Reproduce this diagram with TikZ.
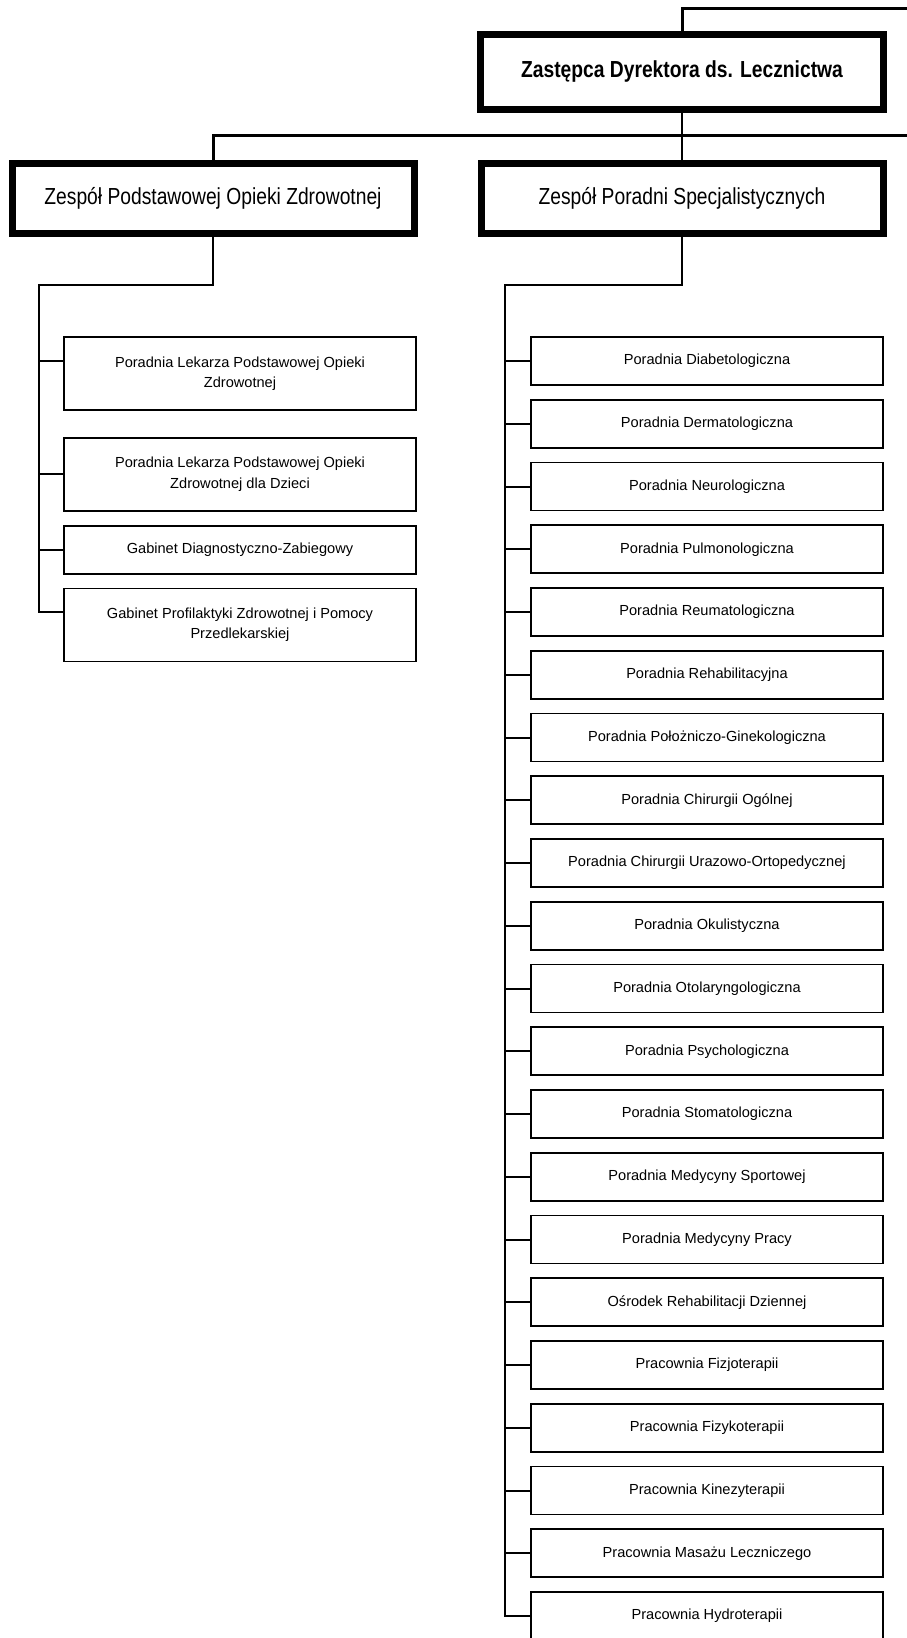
\documentclass[tikz,border=0pt]{standalone}
\usepackage{fontspec}
\setmainfont{Liberation Sans}
\newfontfamily\narrowfont[FakeStretch=0.83]{Liberation Sans}
\usepackage{tikz}
\usetikzlibrary{positioning,calc}

\begin{document}
\begin{tikzpicture}[x=1pt,y=-1pt,
	top node/.style={draw,line width=7pt,inner sep=0pt,
		minimum width=403pt,minimum height=75pt,font=\narrowfont\fontsize{23.2}{26}\selectfont\bfseries},
	head node/.style={draw,line width=7pt,inner sep=0pt,
		minimum width=402pt,minimum height=70pt,font=\narrowfont\fontsize{23.2}{26}\selectfont},
	unit node/.style={draw,line width=1.8pt,inner sep=0pt,align=center,
		minimum width=352pt,minimum height=48pt,font=\fontsize{14.6}{20.5}\selectfont},
	link/.style={line width=2pt},
	top link/.style={line width=3pt}]

    \useasboundingbox (0,0) rectangle (907,1638);

    \node[top node] (dz) at (682,72) {Zastępca Dyrektora ds. Lecznictwa};
    \node[head node] (zps) [below = 47pt of dz] {Zespół Poradni Specjalistycznych};
    \node[head node] (zpoz) [left = 60pt of zps] {Zespół Podstawowej Opieki Zdrowotnej};

    \node[unit node,minimum height=73pt] (lb1) at (240,373.5) {Poradnia Lekarza Podstawowej Opieki\\Zdrowotnej};
    \node[unit node,minimum height=73pt] (lb2) [below = 26pt of lb1] {Poradnia Lekarza Podstawowej Opieki\\Zdrowotnej dla Dzieci};
    \node[unit node] (lb3) [below = 13pt of lb2] {Gabinet Diagnostyczno-Zabiegowy};
    \node[unit node,minimum height=73pt] (lb4) [below = 13pt of lb3] {Gabinet Profilaktyki Zdrowotnej i Pomocy\\Przedlekarskiej};

    \node[unit node] (rb1) at (707,361) {Poradnia Diabetologiczna};
    \foreach \t [count=\i from 2, remember=\i as \j (initially 1)] in
    	{Poradnia Dermatologiczna, Poradnia Neurologiczna, Poradnia Pulmonologiczna,
    	 Poradnia Reumatologiczna, Poradnia Rehabilitacyjna, Poradnia Położniczo-Ginekologiczna,
    	 Poradnia Chirurgii Ogólnej, Poradnia Chirurgii Urazowo-Ortopedycznej, Poradnia Okulistyczna,
    	 Poradnia Otolaryngologiczna, Poradnia Psychologiczna, Poradnia Stomatologiczna,
    	 Poradnia Medycyny Sportowej, Poradnia Medycyny Pracy, Ośrodek Rehabilitacji Dziennej,
    	 Pracownia Fizjoterapii, Pracownia Fizykoterapii, Pracownia Kinezyterapii,
    	 Pracownia Masażu Leczniczego, Pracownia Hydroterapii}
    	\node[unit node] (rb\i) [below = 12.95pt of rb\j] {\t};

    \coordinate (up) at (910,8);
    \coordinate (bus) at (910,135);
    \coordinate (lt) at (39,285);
    \coordinate (rt) at (505,285);
    \coordinate (lb1 in) at ($(lb1.north west)!.33!(lb1.south west)$);
    \coordinate (lb4 in) at ($(lb4.north west)!.33!(lb4.south west)$);

    \draw[top link] (dz.north) |- (up);
    \draw[top link] (zpoz.north) |- (bus);
    \draw[link] (dz.south) -- (zps.north);

    \draw[link] (zpoz.south) |- (lt) |- (lb4 in);
    \draw[link] (lb1 in) -- (lb1 in -| lt);
    \draw[link] (lb2.west) -- (lb2.west -| lt);
    \draw[link] (lb3.west) -- (lb3.west -| lt);

    \draw[link] (zps.south) |- (rt) |- (rb21.west);
    \foreach \i in {1,...,20}
    	\draw[link] (rb\i.west) -- (rb\i.west -| rt);

\end{tikzpicture}
\end{document}
